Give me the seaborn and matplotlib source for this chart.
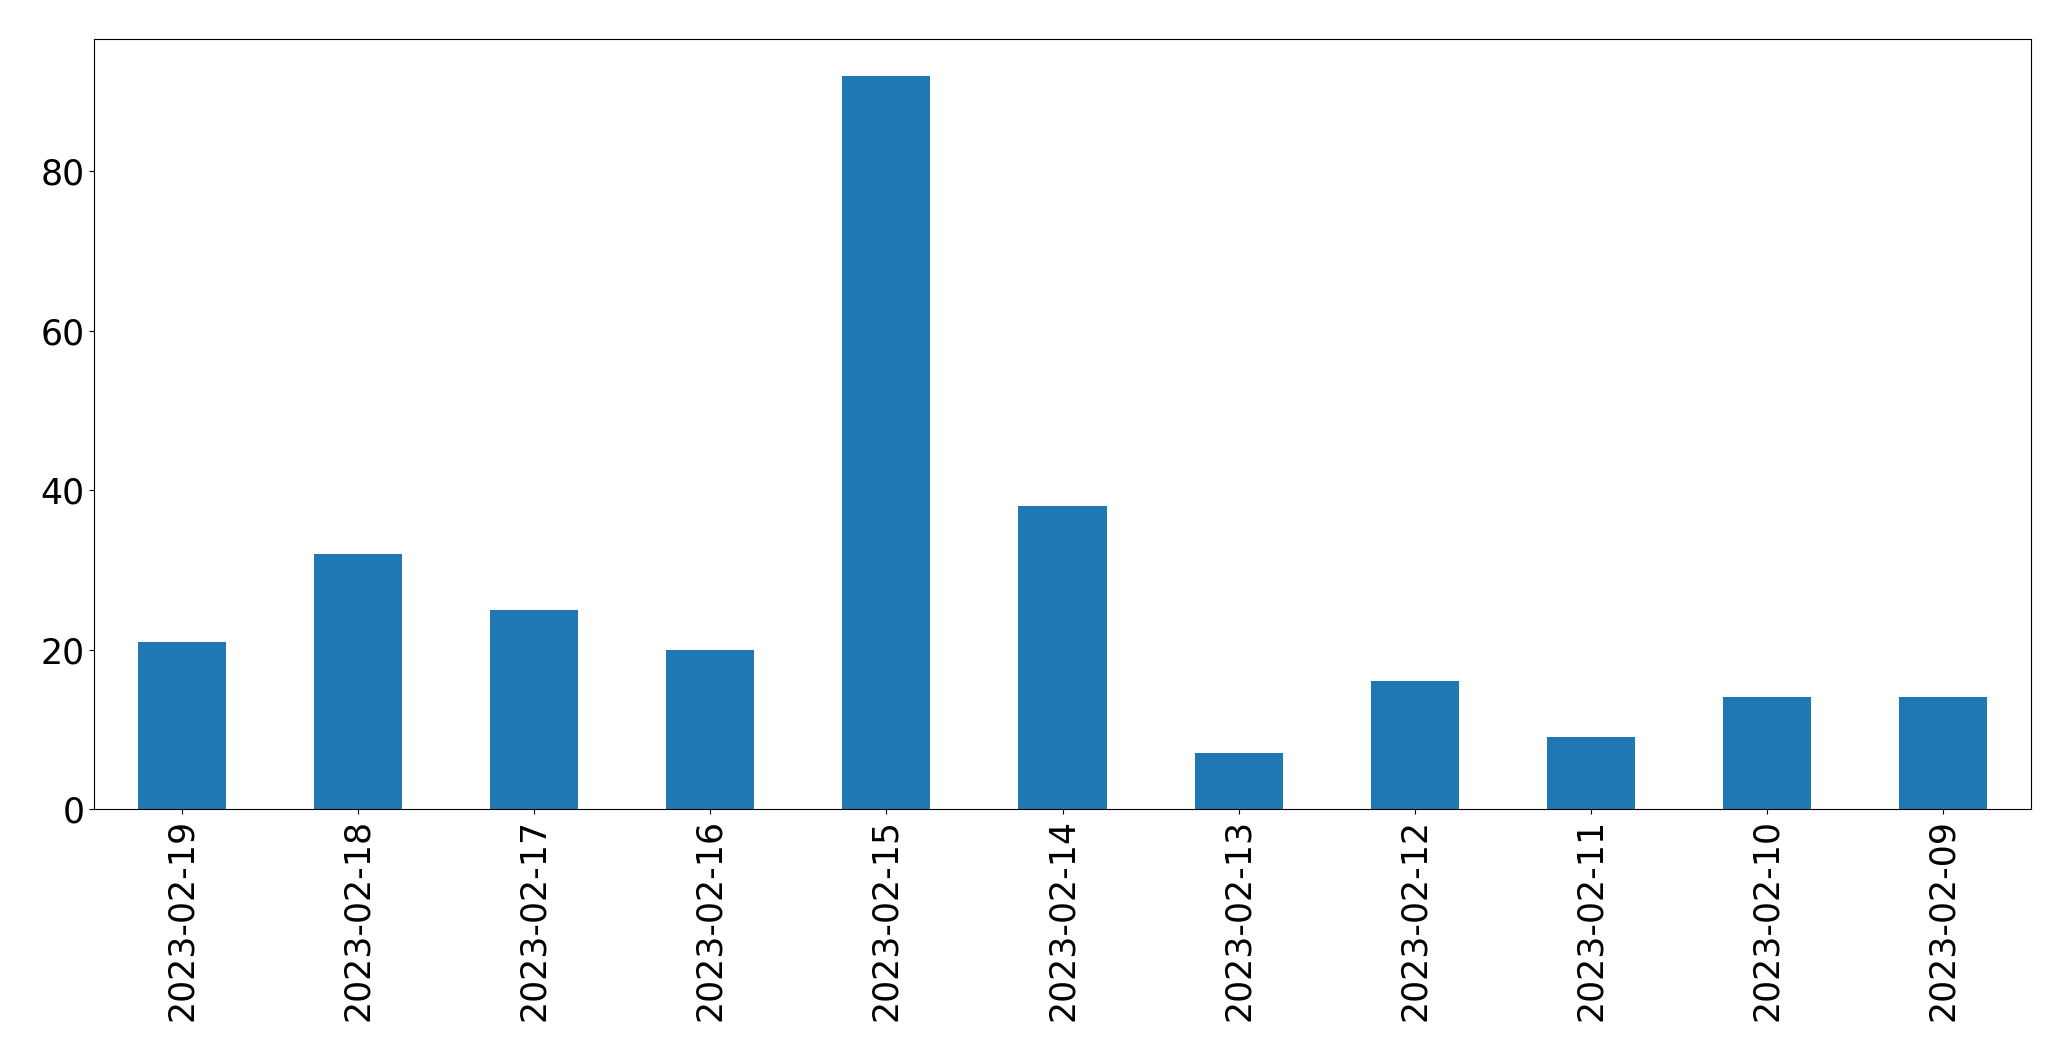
import matplotlib
matplotlib.use("Agg")
import matplotlib.pyplot as plt
import seaborn as sns
import pandas as pd

dates = ["2023-02-19", "2023-02-18", "2023-02-17", "2023-02-16", "2023-02-15",
         "2023-02-14", "2023-02-13", "2023-02-12", "2023-02-11", "2023-02-10",
         "2023-02-09"]
counts = [21, 32, 25, 20, 92, 38, 7, 16, 9, 14, 14]

df = pd.DataFrame({"date": dates, "count": counts})

plt.rcParams["font.family"] = ["DejaVu Sans"]
fig = plt.figure(figsize=(20.71, 10.61), dpi=100)
ax = fig.add_axes([94 / 2071, 1 - 809 / 1061, (2031 - 94) / 2071, (809 - 39) / 1061])

sns.barplot(data=df, x="date", y="count", order=dates, color="#1f77b4",
            saturation=1, width=0.5, linewidth=0, ax=ax)

ax.set_xlim(-0.5, len(dates) - 0.5)
ax.set_xlabel("")
ax.set_ylabel("")
ax.tick_params(axis="both", labelsize=25, length=3.5, width=0.8, pad=3.5)
ax.tick_params(axis="x", labelrotation=90)
for s in ax.spines.values():
    s.set_visible(True)
    s.set_color("black")
    s.set_linewidth(0.8)

fig.savefig("out.png", dpi=100)
